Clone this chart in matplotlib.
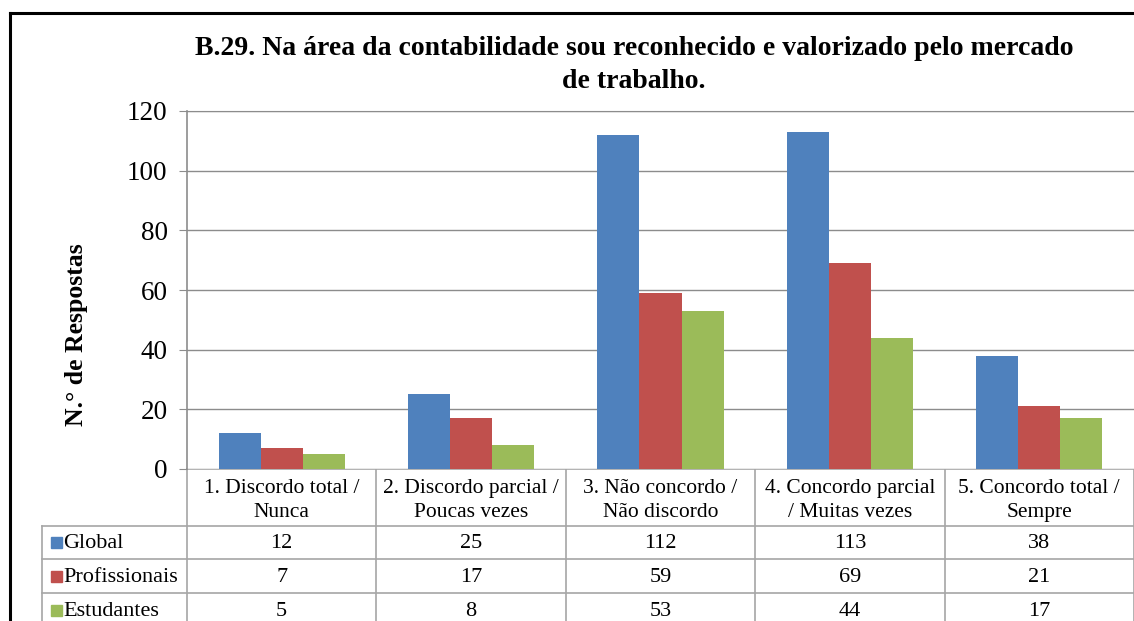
import matplotlib
matplotlib.use("Agg")
import matplotlib.pyplot as plt
import numpy as np
from matplotlib.transforms import blended_transform_factory
from matplotlib.patches import Rectangle

# categorias e respostas
categorias = ["1. Discordo total /\nNunca",
              "2. Discordo parcial /\nPoucas vezes",
              "3. Não concordo /\nNão discordo",
              "4. Concordo parcial\n/ Muitas vezes",
              "5. Concordo total /\nSempre"]
series = ["Global", "Profissionais", "Estudantes"]
global_ = [12, 25, 112, 113, 38]
profissionais = [7, 17, 59, 69, 21]
estudantes = [5, 8, 53, 44, 17]
cores = ["#4F81BD", "#C0504D", "#9BBB59"]

titulo = "B.29. Na área da contabilidade sou reconhecido e valorizado pelo mercado\nde trabalho."
ylabel = "N.° de Respostas"

plt.rcParams['font.family'] = ['Liberation Serif', 'DejaVu Serif']

W, H = 1134, 621
fig = plt.figure(figsize=(W / 100, H / 100), dpi=100)

# camada em pixeis para moldura e tabela
base = fig.add_axes([0, 0, 1, 1])
base.set_xlim(0, W)
base.set_ylim(H, 0)
base.axis("off")

x0, ytop, ybot = 187, 111, 469
ax = fig.add_axes([x0 / W, (H - ybot) / H, (W - x0) / W, (ybot - ytop) / H])
ax.set_zorder(2)

valores = [global_, profissionais, estudantes]
x = np.arange(len(categorias))
bw = 0.222
for i, (vals, c) in enumerate(zip(valores, cores)):
    ax.bar(x + (i - 1) * bw, vals, bw, color=c, zorder=3)

ax.set_xlim(-0.5, len(categorias) - 0.5)
ax.set_ylim(0, 120)
ax.set_yticks(np.arange(0, 121, 20))
ax.set_xticks([])
ax.grid(axis="y", color="#8c8c8c", linewidth=1.0)
ax.set_axisbelow(True)
for s in ["right", "bottom"]:
    ax.spines[s].set_visible(False)
ax.spines["top"].set_color("#8c8c8c")
ax.spines["left"].set_color("#8c8c8c")
ax.spines["left"].set_linewidth(1.2)
ax.tick_params(axis="y", length=6, color="#8c8c8c", labelsize=19.5, pad=8)

base.text(76, 335, ylabel, rotation=90, ha="center", va="center",
          fontsize=18.5, fontweight="bold")
base.text(634, 65, titulo, ha="center", va="center", fontsize=20,
          fontweight="bold", linespacing=1.38)

# moldura exterior
base.plot([10, W + 5], [13, 13], color="black", lw=2.2, clip_on=False)
base.plot([10, 10], [13, H + 5], color="black", lw=2.2, clip_on=False)

# tabela de dados
gc = "#a6a6a6"
tr = blended_transform_factory(ax.transData, base.transData)
rows = [469, 526, 559, 593, 627]
xr = W + 5
base.plot([x0, xr], [rows[0], rows[0]], color=gc, lw=1.2)
for yy in rows[1:4]:
    base.plot([42, xr], [yy, yy], color=gc, lw=1.2)
base.plot([42, 42], [rows[1], H + 5], color=gc, lw=1.2)
for k in range(len(categorias) + 1):
    base.plot([k - 0.5, k - 0.5], [rows[0], H + 5], color=gc, lw=1.2,
              transform=tr, clip_on=False)

for k, cat in enumerate(categorias):
    base.text(k, (rows[0] + rows[1]) / 2 + 3, cat, transform=tr, ha="center",
              va="center", fontsize=15.5, linespacing=1.35)
    for r, vals in enumerate(valores):
        base.text(k, (rows[r + 1] + rows[r + 2]) / 2 + 1, str(vals[k]),
                  transform=tr, ha="center", va="center", fontsize=16)

for r, (nome, c) in enumerate(zip(series, cores)):
    yc = (rows[r + 1] + rows[r + 2]) / 2
    base.add_patch(Rectangle((51, yc - 5.5), 11, 11, color=c))
    base.text(63, yc + 1, nome, ha="left", va="center", fontsize=16)

fig.savefig("out.png", dpi=100)
